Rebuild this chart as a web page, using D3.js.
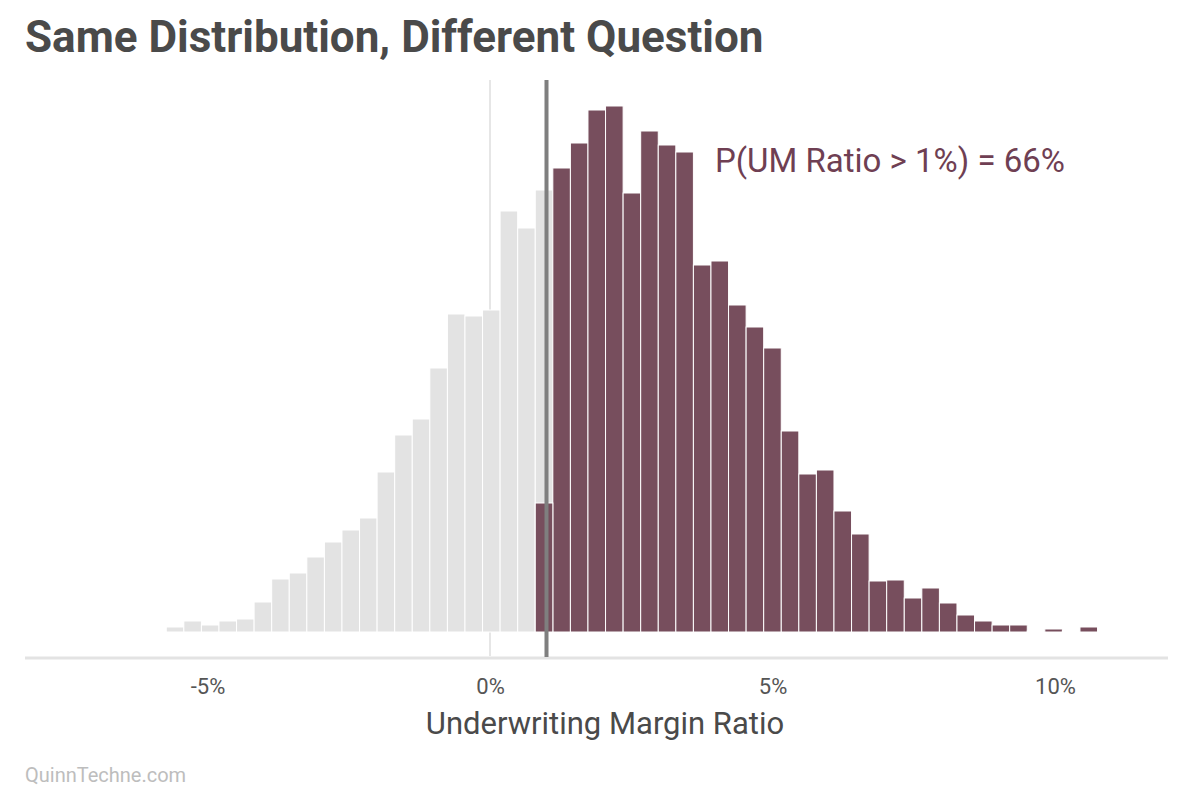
<!DOCTYPE html>
<html>
<head>
<meta charset="utf-8">
<script src="https://cdn.jsdelivr.net/npm/d3@7"></script>
<style>
  body { margin: 0; background: #fff; }
  text { font-family: Roboto, "Open Sans", sans-serif; }
</style>
</head>
<body>
<svg id="chart" width="1200" height="800"></svg>
<script>
// Histogram bins (underwriting margin ratio, %)
var binStart = -7.285;
var binWidth = 0.311;
var counts = [1, 1, 0, 0, 1, 5, 11, 7, 11, 13, 30, 53, 59, 75, 90, 102, 114, 160, 197, 213,
  264, 318, 316, 322, 421, 404, 442, 464, 489, 522, 526, 439, 501, 487, 480, 367,
  371, 327, 305, 284, 201, 158, 162, 121, 98, 51, 52, 34, 44, 29, 17, 11, 7, 7,
  1, 3, 1, 5, 0, 1];
var straddleIndex = 26;
var straddleAbove = 129;  // part of the straddling bin above the threshold
var threshold = 1;
var xTicks = [-5, 0, 5, 10];

var svg = d3.select('#chart');

var x = d3.scaleLinear().domain([0, 10]).range([490, 1055]);
var y = d3.scaleLinear().domain([0, 526]).range([632, 106]);

var bins = counts.map(function (c, i) {
  return { x0: binStart + i * binWidth, x1: binStart + (i + 1) * binWidth, n: c };
});

// Title
svg.append('text')
  .attr('x', 25).attr('y', 52)
  .style('font-size', '44px').style('font-weight', 'bold')
  .attr('fill', '#4a4a4a')
  .text('Same Distribution, Different Question');

// zero reference line
svg.append('line')
  .attr('x1', x(0)).attr('x2', x(0))
  .attr('y1', 80).attr('y2', 656)
  .attr('stroke', '#e6e6e6').attr('stroke-width', 2);

// bars
svg.append('g').selectAll('rect')
  .data(bins)
  .join('rect')
  .attr('x', function (d) { return x(d.x0); })
  .attr('width', function (d) { return x(d.x1) - x(d.x0); })
  .attr('y', function (d) { return y(d.n); })
  .attr('height', function (d) { return y(0) - y(d.n); })
  .attr('fill', function (d, i) { return i > straddleIndex ? '#774e5d' : '#e3e3e3'; })
  .attr('stroke', '#fff').attr('stroke-width', 1);

// part of the straddling bin beyond the threshold
var sb = bins[straddleIndex];
svg.append('rect')
  .attr('x', x(sb.x0)).attr('width', x(sb.x1) - x(sb.x0))
  .attr('y', y(straddleAbove)).attr('height', y(0) - y(straddleAbove))
  .attr('fill', '#774e5d').attr('stroke', '#fff').attr('stroke-width', 1);

// axis
var xAxis = d3.axisBottom(x)
  .tickValues(xTicks)
  .tickSize(0)
  .tickPadding(20)
  .tickFormat(function (d) { return d + '%'; });

var gx = svg.append('g')
  .attr('transform', 'translate(0,658)')
  .call(xAxis);
gx.select('.domain').remove();
gx.selectAll('text')
  .style('font-size', '22px')
  .style('font-family', 'Roboto, sans-serif')
  .attr('fill', '#555');

svg.append('line')
  .attr('x1', 25).attr('x2', 1168)
  .attr('y1', 658).attr('y2', 658)
  .attr('stroke', '#e3e3e3').attr('stroke-width', 3);

// threshold line
svg.append('line')
  .attr('x1', x(threshold)).attr('x2', x(threshold))
  .attr('y1', 80).attr('y2', 657)
  .attr('stroke', '#7f7f7f').attr('stroke-width', 4);

// annotation
svg.append('text')
  .attr('x', 715).attr('y', 172)
  .style('font-size', '33px')
  .attr('fill', '#6f3f53')
  .text('P(UM Ratio > 1%) = 66%');

// axis title
svg.append('text')
  .attr('x', 605).attr('y', 734)
  .attr('text-anchor', 'middle')
  .style('font-size', '31px')
  .attr('fill', '#4a4a4a')
  .text('Underwriting Margin Ratio');

// footer
svg.append('text')
  .attr('x', 25).attr('y', 782)
  .style('font-size', '20px')
  .attr('fill', '#bdbdbd')
  .text('QuinnTechne.com');
</script>
</body>
</html>
